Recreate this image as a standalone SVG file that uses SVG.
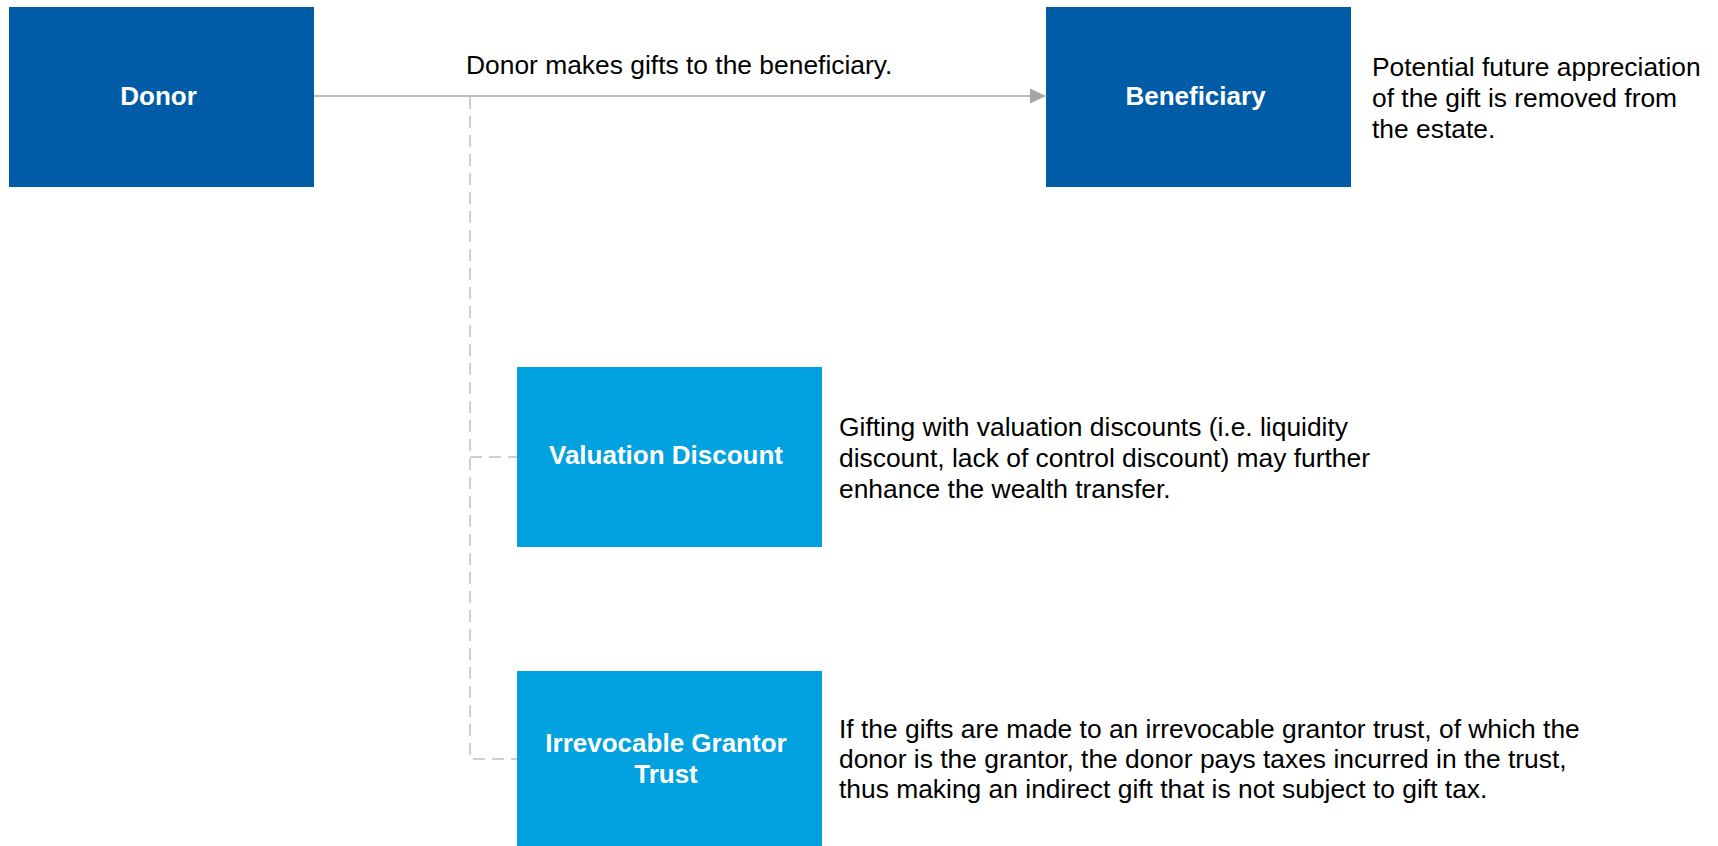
<svg xmlns="http://www.w3.org/2000/svg" width="1718" height="846" viewBox="0 0 1718 846">
  <style>
    .dark { fill: #005ca6; }
    .light { fill: #02a1e0; }
    .label { font-family: "Liberation Sans", Arial, sans-serif; font-size: 26px; font-weight: bold; fill: #ffffff; text-anchor: middle; }
    .note { font-family: "Liberation Sans", Arial, sans-serif; font-size: 26.4px; fill: #000000; }
    .flow { stroke: #a6a6a6; stroke-width: 1.5; fill: none; }
    .branch { stroke: #c0c0c0; stroke-width: 1.5; fill: none; stroke-dasharray: 12 7; }
  </style>
  <rect width="1718" height="846" fill="#ffffff"/>

  <!-- connectors -->
  <g id="connectors">
    <line class="flow" x1="314" y1="96" x2="1030" y2="96"/>
    <path d="M1030,88.5 L1046,96 L1030,103.5 Z" fill="#a6a6a6"/>
    <text class="note" x="466" y="74">Donor makes gifts to the beneficiary.</text>
    <path class="branch" d="M470,97 L470,759 L517,759"/>
    <line class="branch" x1="470" y1="457" x2="517" y2="457"/>
  </g>

  <g id="donor">
    <rect class="dark" x="9" y="7" width="305" height="180"/>
    <text class="label" x="158.5" y="105">Donor</text>
  </g>

  <g id="beneficiary">
    <rect class="dark" x="1046" y="7" width="305" height="180"/>
    <text class="label" x="1195.5" y="105">Beneficiary</text>
    <text class="note" x="1372" y="76">Potential future appreciation</text>
    <text class="note" x="1372" y="107">of the gift is removed from</text>
    <text class="note" x="1372" y="138">the estate.</text>
  </g>

  <g id="valuation-discount">
    <rect class="light" x="517" y="367" width="305" height="180"/>
    <text class="label" x="666" y="464">Valuation Discount</text>
    <text class="note" x="839" y="436">Gifting with valuation discounts (i.e. liquidity</text>
    <text class="note" x="839" y="467">discount, lack of control discount) may further</text>
    <text class="note" x="839" y="498">enhance the wealth transfer.</text>
  </g>

  <g id="irrevocable-grantor-trust">
    <rect class="light" x="517" y="671" width="305" height="176"/>
    <text class="label" x="666" y="752">Irrevocable Grantor</text>
    <text class="label" x="666" y="783">Trust</text>
    <text class="note" x="839" y="738">If the gifts are made to an irrevocable grantor trust, of which the</text>
    <text class="note" x="839" y="768">donor is the grantor, the donor pays taxes incurred in the trust,</text>
    <text class="note" x="839" y="798">thus making an indirect gift that is not subject to gift tax.</text>
  </g>
</svg>
